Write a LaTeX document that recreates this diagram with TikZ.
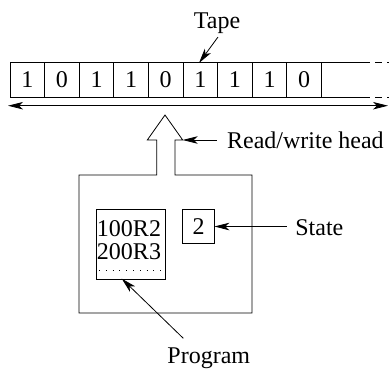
\documentclass[tikz,border=0pt]{standalone}
\usepackage{fontspec}
\setmainfont{Liberation Serif}
\usetikzlibrary{arrows.meta}
\begin{document}
\begin{tikzpicture}[x=1pt,y=-1pt,
  line width=0.8pt,
  every node/.style={font=\rmfamily\fontsize{24}{28}\selectfont},
  txt/.style={inner sep=0pt},
  cell/.style={draw, minimum width=34.6pt, minimum height=35pt, inner sep=0pt, outer sep=0pt},
  box/.style={draw, inner sep=0pt, outer sep=0pt},
  tip/.tip={Stealth[length=15pt,width=7.5pt,inset=4pt]},
  ptr/.style={-tip},
]
\useasboundingbox (0,0) rectangle (389,368);

% tape cells
\foreach \d [count=\i] in {1,0,1,1,0,1,1,1,0}
  \node[cell] (c\i) at ({10+34.6*(\i-0.5)},79.5) {\d};
\coordinate (topend) at (363,62);
\coordinate (botend) at (363,97);
\coordinate (topfar) at (389,62);
\coordinate (botfar) at (389,97);
\draw (c9.north east) -- (topend);
\draw (c9.south east) -- (botend);
\draw[dash pattern=on 7pt off 5pt] (topend) -- (topfar);
\draw[dash pattern=on 7pt off 5pt] (botend) -- (botfar);

% movement of the tape
\coordinate (mvl) at (8,105.7);
\coordinate (mvr) at (388,105.7);
\draw[tip-tip] (mvl) -- (mvr);

% tape label
\node[txt, anchor=base] (tape) at (217,28.5) {Tape};
\coordinate (tapefrom) at (218,37);
\draw[ptr] (tapefrom) -- (199,63);

% machine outline with the read/write head
\coordinate (hd) at (165,115);
\coordinate (shr) at (182.7,140);
\coordinate (shl) at (147.3,140);
\draw (156.7,175) -- (79,175) -- (79,313) -- (252,313) -- (252,175) -- (175,175)
      -- (175,140) -- (shr) -- (hd) -- (shl) -- (156.7,140) -- cycle;

\node[txt, anchor=base west] (headlbl) at (226.7,148.5) {Read/write head};
\draw[ptr] ([xshift=-10pt]headlbl.west |- shr) -- (shr);

% program
\node[box, minimum width=68.3pt, minimum height=69.7pt] (prog) at (130.85,244.15) {};
\node[txt, anchor=base] (l1) at (129,236) {100R2};
\node[txt, anchor=base] (l2) at (129,259.5) {200R3};
\draw[dash pattern=on 1pt off 5.8pt] (99,270) -- (164,270);
\node[txt, anchor=base] (proglbl) at (208.8,363) {Program};
\coordinate (progfrom) at (183.3,338.3);
\draw[ptr] (progfrom) -- (121.7,278.6);

% state
\node[box, minimum width=31.6pt, minimum height=34pt] (state) at (198.5,226.3) {2};
\node[txt, anchor=base west] (statelbl) at (295,235) {State};
\draw[ptr] (286.7,226.5) -- (state.east |- 0,226.5);
\end{tikzpicture}
\end{document}
